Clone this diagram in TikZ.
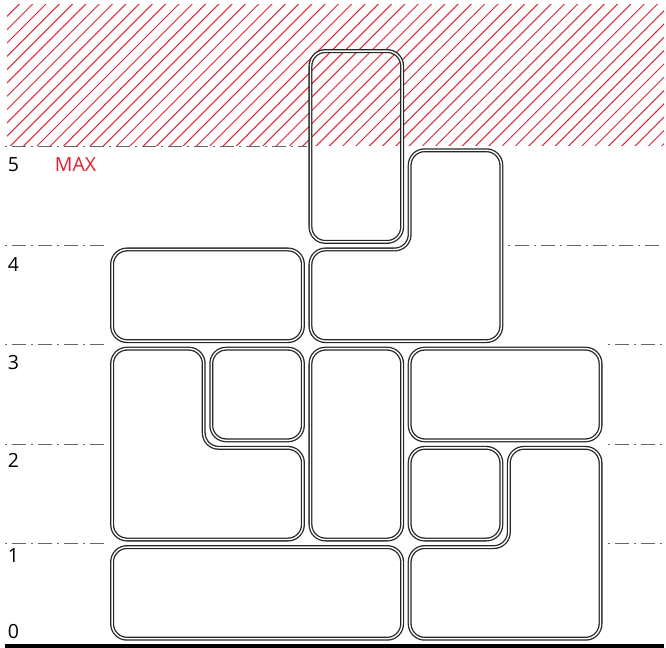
\documentclass[tikz,border=0pt]{standalone}
\usepackage{fontspec}
\setmainfont{Open Sans}
\definecolor{hatchred}{RGB}{222,40,55}
\definecolor{maxred}{RGB}{226,30,45}
\begin{document}
\begin{tikzpicture}[x=99.2pt,y=99.2pt,
  piece/.style={draw=black!85, line width=1.3pt, double=white, double distance=1.4pt, rounded corners=15pt},
  levelline/.style={draw=black!60, line width=0.9pt, dash pattern=on 2pt off 5pt on 14pt off 5pt},
  hatchline/.style={draw=hatchred, line width=1pt},
  lab/.style={font=\fontsize{19.5}{19.5}\selectfont, anchor=base west, inner sep=0pt}]
\useasboundingbox (-1.0917,-0.0554) rectangle (5.622,6.4768);
% hatched MAX zone
\begin{scope}
  \clip (-1.021,5.015) rectangle (5.602,6.4264);
  \foreach \i in {0,...,64} \draw[hatchline] (-2.6+\i*0.134,5.0) -- ++(1.5,1.5);
\end{scope}
% level lines
\draw[levelline] (-1.041,5) -- (2.0,5);
\draw[levelline] (-1.041,4) -- (0,4);
\draw[levelline] (4.03,4) -- (5.59,4);
\foreach \k in {1,2,3} {
  \draw[levelline] (-1.041,\k) -- (0,\k);
  \draw[levelline] (5.04,\k) -- (5.59,\k);
}
% ground
\draw[line width=3.3pt] (-1.041,-0.035) -- (5.6,-0.035);
% pieces
\draw[piece] (0.038,0.038) rectangle (2.962,0.962);
\draw[piece] (3.038,0.038) -- (4.962,0.038) -- (4.962,1.962) -- (4.038,1.962) -- (4.038,0.962) -- (3.038,0.962) -- cycle;
\draw[piece] (3.038,1.038) rectangle (3.962,1.962);
\draw[piece] (2.038,1.038) rectangle (2.962,2.962);
\draw[piece] (0.038,1.038) -- (1.962,1.038) -- (1.962,1.962) -- (0.962,1.962) -- (0.962,2.962) -- (0.038,2.962) -- cycle;
\draw[piece] (1.038,2.038) rectangle (1.962,2.962);
\draw[piece] (3.038,2.038) rectangle (4.962,2.962);
\draw[piece] (0.038,3.038) rectangle (1.962,3.962);
\draw[piece] (2.038,3.038) -- (3.962,3.038) -- (3.962,4.962) -- (3.038,4.962) -- (3.038,3.962) -- (2.038,3.962) -- cycle;
\draw[piece] (2.038,4.038) rectangle (2.962,5.962);
% labels
\node[lab] (l5) at (-1.015,4.743) {5};
\node[lab] (l4) at (-1.015,3.735) {4};
\node[lab] (l3) at (-1.015,2.747) {3};
\node[lab] (l2) at (-1.015,1.760) {2};
\node[lab] (l1) at (-1.015,0.811) {1};
\node[lab] (l0) at (-1.015,0.045) {0};
\node[lab, text=maxred] (max) at (-0.54,4.743) {MAX};
\end{tikzpicture}
\end{document}
